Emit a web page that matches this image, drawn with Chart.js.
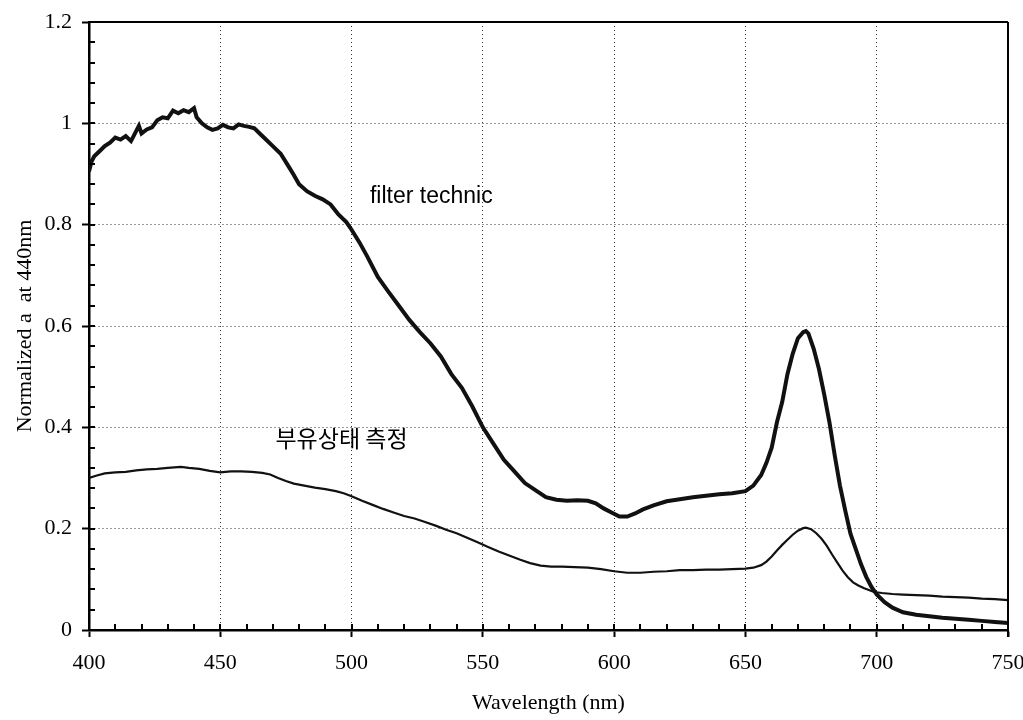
<!DOCTYPE html>
<html>
<head>
<meta charset="utf-8">
<script src="https://cdn.jsdelivr.net/npm/chart.js@4.4.1/dist/chart.umd.min.js"></script>
<style>
  html, body { margin: 0; padding: 0; background: #fff; }
  #wrap { width: 1023px; height: 720px; }
</style>
</head>
<body>
<div id="wrap"><canvas id="c" width="1023" height="720"></canvas></div>
<script>
// ---- Data ----
const filterX = [400,401,402,404,406,408,410,412,414,416,418,419,420,422,424,426,428,430,432,434,436,438,440,441,443,445,447,449,451,453,455,457,459,461,463,465,467,470,473,476,478,480,483,486,489,492,495,498,500,503,506,510,514,518,522,526,530,534,538,542,546,550,554,558,562,566,570,574,578,582,586,590,593,596,599,602,605,608,611,615,620,625,630,635,640,645,650,653,656,658,660,662,664,666,668,670,672,673,674,676,678,680,682,684,686,688,690,692,694,696,698,700,703,706,710,715,720,725,730,735,740,745,750];
const filterY = [0.905,0.925,0.935,0.945,0.955,0.962,0.972,0.968,0.975,0.965,0.985,0.995,0.980,0.988,0.992,1.006,1.012,1.010,1.025,1.020,1.026,1.022,1.030,1.012,1.000,0.992,0.987,0.990,0.997,0.992,0.990,0.998,0.995,0.993,0.990,0.980,0.970,0.955,0.940,0.915,0.898,0.880,0.866,0.857,0.850,0.840,0.820,0.805,0.790,0.765,0.737,0.697,0.668,0.640,0.612,0.588,0.566,0.540,0.505,0.478,0.441,0.400,0.368,0.336,0.313,0.290,0.276,0.262,0.257,0.255,0.256,0.255,0.250,0.240,0.232,0.224,0.224,0.230,0.238,0.246,0.254,0.258,0.262,0.265,0.268,0.270,0.274,0.285,0.306,0.330,0.360,0.410,0.450,0.505,0.545,0.576,0.588,0.590,0.585,0.555,0.515,0.465,0.410,0.345,0.285,0.236,0.190,0.160,0.130,0.105,0.085,0.070,0.055,0.044,0.035,0.030,0.027,0.024,0.022,0.020,0.018,0.016,0.014];

const suspX = [400,403,406,410,414,418,422,426,430,435,438,442,446,450,454,458,462,466,469,472,475,478,482,486,490,494,497,500,504,508,512,516,520,524,528,532,536,540,544,548,552,556,560,564,568,572,576,580,585,590,595,600,605,610,615,620,625,630,635,640,645,650,653,656,658,660,662,664,666,668,670,672,673,675,677,679,681,683,685,687,689,691,693,695,697,699,702,706,710,715,720,725,730,735,740,745,750];
const suspY = [0.300,0.305,0.309,0.311,0.312,0.315,0.317,0.318,0.320,0.322,0.320,0.318,0.314,0.311,0.313,0.313,0.312,0.310,0.307,0.300,0.294,0.289,0.285,0.281,0.278,0.274,0.270,0.264,0.255,0.247,0.239,0.232,0.225,0.220,0.213,0.206,0.198,0.191,0.182,0.173,0.164,0.155,0.147,0.139,0.132,0.127,0.125,0.125,0.124,0.123,0.120,0.116,0.113,0.113,0.115,0.116,0.118,0.118,0.119,0.119,0.120,0.121,0.123,0.128,0.135,0.145,0.157,0.168,0.178,0.188,0.196,0.201,0.202,0.199,0.191,0.180,0.166,0.149,0.133,0.117,0.104,0.094,0.088,0.083,0.079,0.075,0.073,0.071,0.070,0.069,0.068,0.066,0.065,0.064,0.062,0.061,0.059];

const xTickLabels = ['400','450','500','550','600','650','700','750'];
const yTickLabels = ['0','0.2','0.4','0.6','0.8','1','1.2'];
const seriesNames = ['filter technic', '부유상태 측정'];
const xTitle = 'Wavelength (nm)';
const yTitle = 'Normalized a  at 440nm';

// ---- Chart ----
const toPts = (xs, ys) => xs.map((x, i) => ({ x: x, y: ys[i] }));

const decorations = {
  id: 'decorations',
  afterDraw(chart) {
    const ctx = chart.ctx;
    const a = chart.chartArea;
    const xs = chart.scales.x, ys = chart.scales.y;
    ctx.save();
    ctx.strokeStyle = '#000';
    ctx.setLineDash([]);
    // top and right frame
    ctx.lineWidth = 2;
    ctx.beginPath();
    ctx.moveTo(a.left, a.top); ctx.lineTo(a.right, a.top);
    ctx.moveTo(a.right, a.top); ctx.lineTo(a.right, a.bottom + 7);
    ctx.stroke();
    // x ticks inside (every 10 nm)
    ctx.lineWidth = 2;
    ctx.beginPath();
    for (let v = 410; v < 750; v += 10) {
      const px = Math.round(xs.getPixelForValue(v));
      ctx.moveTo(px, a.bottom); ctx.lineTo(px, a.bottom - 6);
    }
    ctx.stroke();
    // y ticks inside (every 0.04)
    ctx.beginPath();
    for (let i = 1; i < 30; i++) {
      const py = Math.round(ys.getPixelForValue(i * 0.04));
      ctx.moveTo(a.left, py); ctx.lineTo(a.left + 6, py);
    }
    ctx.stroke();
    // annotations
    ctx.fillStyle = '#000';
    ctx.textBaseline = 'middle';
    ctx.textAlign = 'left';
    ctx.font = '23px "Liberation Sans", Arial, sans-serif';
    ctx.fillText(seriesNames[0], xs.getPixelForValue(507), ys.getPixelForValue(0.855));
    ctx.font = '23px "Noto Sans CJK KR", sans-serif';
    ctx.fillText(seriesNames[1], xs.getPixelForValue(471), ys.getPixelForValue(0.378));
    ctx.restore();
  }
};

Chart.defaults.font.family = '"Liberation Serif", "Times New Roman", serif';
Chart.defaults.color = '#000';

new Chart(document.getElementById('c'), {
  type: 'line',
  data: {
    datasets: [
      { label: seriesNames[0], data: toPts(filterX, filterY), borderColor: '#111', borderWidth: 4, pointRadius: 0, tension: 0 },
      { label: seriesNames[1], data: toPts(suspX, suspY), borderColor: '#111', borderWidth: 2.2, pointRadius: 0, tension: 0 }
    ]
  },
  options: {
    responsive: false,
    devicePixelRatio: 1,
    animation: false,
    layout: { padding: { top: 22, right: 15, left: 0, bottom: 0 } },
    plugins: { legend: { display: false }, tooltip: { enabled: false } },
    scales: {
      x: {
        type: 'linear', min: 400, max: 750,
        afterBuildTicks: s => { s.ticks = xTickLabels.map(t => ({ value: Number(t) })); },
        ticks: { callback: (v, i) => xTickLabels[i], font: { size: 22 }, padding: 13, maxRotation: 0, color: '#000' },
        grid: {
          color: c => (c.tick && (c.tick.value === 400 || c.tick.value === 750)) ? 'rgba(0,0,0,0)' : '#333',
          lineWidth: 1, drawTicks: true, tickLength: 7, tickColor: '#000', tickWidth: 2, tickBorderDash: []
        },
        border: { display: true, color: '#000', width: 2.5, dash: [1, 3] },
        title: { display: true, text: xTitle, font: { size: 22 }, padding: { top: 0, bottom: 4 }, color: '#000' },
        afterFit: s => { s.height = 90; s.paddingRight = 0; s.paddingLeft = 0; }
      },
      y: {
        type: 'linear', min: 0, max: 1.2,
        afterBuildTicks: s => { s.ticks = yTickLabels.map(t => ({ value: Number(t) })); },
        ticks: { callback: (v, i) => yTickLabels[i], font: { size: 22 }, padding: 10, color: '#000' },
        grid: {
          color: c => (c.tick && (c.tick.value === 0 || c.tick.value === 1.2)) ? 'rgba(0,0,0,0)' : '#333',
          lineWidth: 1, drawTicks: true, tickLength: 7, tickColor: '#000', tickWidth: 2, tickBorderDash: []
        },
        border: { display: true, color: '#000', width: 2.5, dash: [1, 3] },
        title: { display: true, text: yTitle, font: { size: 22 }, padding: { top: 12, bottom: 0 }, color: '#000' },
        afterFit: s => { s.width = 89; s.paddingTop = 0; s.paddingBottom = 0; }
      }
    }
  },
  plugins: [decorations]
});
</script>
</body>
</html>
